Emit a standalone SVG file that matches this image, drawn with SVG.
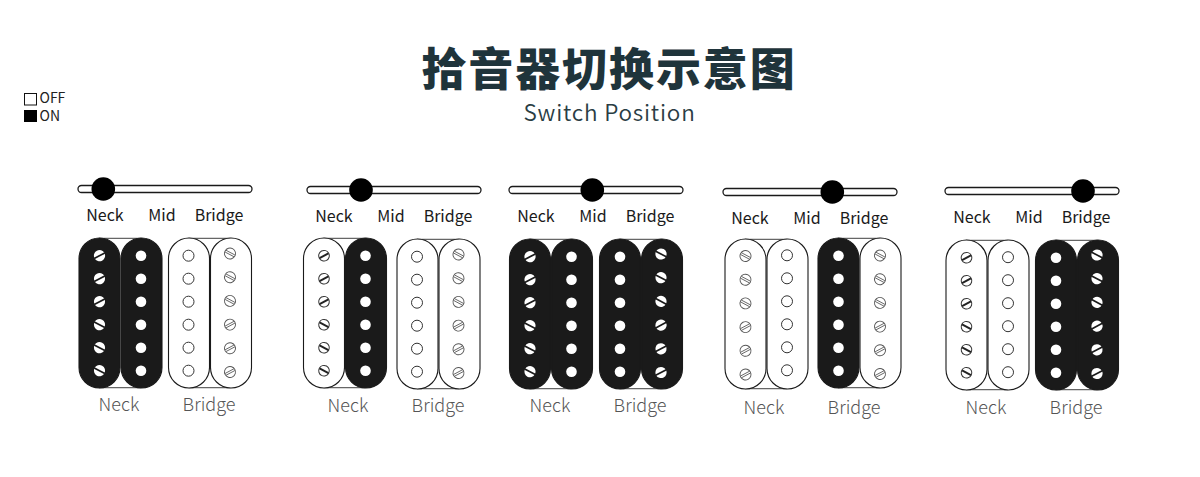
<svg xmlns="http://www.w3.org/2000/svg" width="1200" height="477" viewBox="0 0 1200 477">
<style>
text{font-family:"Noto Sans CJK SC","Noto Sans",sans-serif;text-anchor:middle}
.title{font-weight:900;font-size:45px;fill:#1f343b;letter-spacing:1.9px}
.sub{font-size:22.5px;fill:#2a3d44;letter-spacing:.8px;font-weight:350}
.lab{font-size:16px;fill:#1a1a1a}
.cap{font-size:18px;fill:#555;font-weight:300}
.leg{font-size:14px;fill:#222;text-anchor:start}
.track{fill:#fff;stroke:#1a1a1a;stroke-width:1.3}
.body{stroke:#1a1a1a;stroke-width:1.1}
.k{fill:#1a1a1a}.w{fill:#fff}
.link{stroke:#666;stroke-width:1.2;fill:none}
.hole{fill:#fff;stroke:#333;stroke-width:1}
.holel{fill:#fff;stroke:#555;stroke-width:.9}
</style>
<defs>
<rect id="coilK" width="41" height="150" rx="20.5" class="body k"/>
<rect id="coilW" width="41" height="150" rx="20.5" class="body w"/>
<g id="sk"><circle r="5.6" fill="#fff"/><path d="M-6 0H6" stroke="#1a1a1a" stroke-width="1.7"/></g>
<g id="sw"><circle r="5.3" class="hole"/><path d="M-5 0H5" stroke="#222" stroke-width="1.9"/></g>
<g id="sl"><circle r="5.5" class="holel"/><path d="M-5 -1H5M-5 1H5" stroke="#555" stroke-width=".8"/></g>
<g id="kA"><use href="#sk" transform="translate(0,0) rotate(-28)"/><use href="#sk" transform="translate(0,23) rotate(-28)"/><use href="#sk" transform="translate(0,46) rotate(-28)"/><use href="#sk" transform="translate(0,69) rotate(28)"/><use href="#sk" transform="translate(0,92) rotate(28)"/><use href="#sk" transform="translate(0,115) rotate(28)"/></g>
<g id="wA"><use href="#sw" transform="translate(0,0) rotate(-28)"/><use href="#sw" transform="translate(0,23) rotate(-28)"/><use href="#sw" transform="translate(0,46) rotate(-28)"/><use href="#sw" transform="translate(0,69) rotate(28)"/><use href="#sw" transform="translate(0,92) rotate(28)"/><use href="#sw" transform="translate(0,115) rotate(28)"/></g>
<g id="kB"><use href="#sk" transform="translate(0,0) rotate(28)"/><use href="#sk" transform="translate(0,23.700) rotate(28)"/><use href="#sk" transform="translate(0,47.400) rotate(28)"/><use href="#sk" transform="translate(0,71.100) rotate(-28)"/><use href="#sk" transform="translate(0,94.800) rotate(-28)"/><use href="#sk" transform="translate(0,118.500) rotate(-28)"/></g>
<g id="lB"><use href="#sl" transform="translate(0,0) rotate(28)"/><use href="#sl" transform="translate(0,23.700) rotate(28)"/><use href="#sl" transform="translate(0,47.400) rotate(28)"/><use href="#sl" transform="translate(0,71.100) rotate(-28)"/><use href="#sl" transform="translate(0,94.800) rotate(-28)"/><use href="#sl" transform="translate(0,118.500) rotate(-28)"/></g>
<g id="polesK"><circle cy="0" r="5.3" fill="#fff"/><circle cy="23" r="5.3" fill="#fff"/><circle cy="46" r="5.3" fill="#fff"/><circle cy="69" r="5.3" fill="#fff"/><circle cy="92" r="5.3" fill="#fff"/><circle cy="115" r="5.3" fill="#fff"/></g>
<g id="polesW"><circle cy="0" r="5.5" class="hole"/><circle cy="23" r="5.500" class="hole"/><circle cy="46" r="5.500" class="hole"/><circle cy="69" r="5.500" class="hole"/><circle cy="92" r="5.500" class="hole"/><circle cy="115" r="5.500" class="hole"/></g>
<path id="links" d="M20 .3H62M20 149.700H62" class="link"/>
<g id="labels"><text class="lab" x="27" y="0">Neck</text><text class="lab" x="84" y="0">Mid</text><text class="lab" x="141" y="0">Bridge</text></g>
<rect id="track" y="-3.500" width="174" height="7" rx="3.500" class="track"/>
<g id="neckKK"><use href="#links"/><use href="#coilK"/><use href="#coilK" x="42"/><use href="#kA" transform="translate(20.500,17.700)"/><use href="#polesK" transform="translate(62,17.700)"/></g>
<g id="neckWK"><use href="#links"/><use href="#coilW"/><use href="#coilK" x="42"/><use href="#wA" transform="translate(20.500,17.700)"/><use href="#polesK" transform="translate(62,17.700)"/></g>
<g id="neckWW"><use href="#links"/><use href="#coilW"/><use href="#coilW" x="42"/><use href="#wA" transform="translate(20.500,17.700)"/><use href="#polesW" transform="translate(62,17.200)"/></g>
<g id="neckWWb"><use href="#links"/><use href="#coilW"/><use href="#coilW" x="42"/><use href="#lB" transform="translate(20.500,17)"/><use href="#polesW" transform="translate(62,16.300)"/></g>
<g id="bridgeWW"><use href="#links"/><use href="#coilW"/><use href="#coilW" x="42"/><use href="#polesW" transform="translate(20,17.700)"/><use href="#lB" transform="translate(61.500,15.500)"/></g>
<g id="bridgeKK"><use href="#links"/><use href="#coilK"/><use href="#coilK" x="42"/><use href="#polesK" transform="translate(20.500,17.700)"/><use href="#kB" transform="translate(61.500,15)"/></g>
<g id="bridgeKW"><use href="#links"/><use href="#coilW" x="42"/><use href="#coilK"/><use href="#polesK" transform="translate(20.500,17.700)"/><use href="#lB" transform="translate(62,17.500)"/></g>
</defs>
<rect width="1200" height="477" fill="#fff"/>
<g id="heading">
<text class="title" x="609" y="85.500">拾音器切换示意图</text>
<text class="sub" x="609.500" y="121">Switch Position</text>
</g>
<g id="legend">
<rect x="24.500" y="93.500" width="12" height="11.500" fill="#fff" stroke="#111"/>
<rect x="24" y="110" width="13" height="12" fill="#000"/>
<text class="leg" x="39.500" y="103">OFF</text>
<text class="leg" x="39.500" y="121">ON</text>
</g>
<g id="position-1">
<use href="#track" x="78" y="189"/><circle cx="103.300" cy="189" r="11.800" fill="#000"/>
<use href="#labels" x="78" y="221"/>
<use href="#neckKK" x="79" y="238"/><use href="#bridgeWW" x="168.500" y="238"/>
<text class="cap" x="119" y="411">Neck</text><text class="cap" x="209" y="411">Bridge</text>
</g>
<g id="position-2">
<use href="#track" x="307" y="190"/><circle cx="361" cy="190" r="11.800" fill="#000"/>
<use href="#labels" x="307" y="222"/>
<use href="#neckWK" x="303.500" y="238"/><use href="#bridgeWW" x="397" y="239"/>
<text class="cap" x="348" y="412">Neck</text><text class="cap" x="438" y="412">Bridge</text>
</g>
<g id="position-3">
<use href="#track" x="509" y="190"/><circle cx="592.300" cy="190" r="11.800" fill="#000"/>
<use href="#labels" x="509" y="222"/>
<use href="#neckKK" x="509.500" y="239"/><use href="#bridgeKK" x="599.500" y="239"/>
<text class="cap" x="550" y="412">Neck</text><text class="cap" x="640" y="412">Bridge</text>
</g>
<g id="position-4">
<use href="#track" x="723" y="192"/><circle cx="832.300" cy="192" r="11.800" fill="#000"/>
<use href="#labels" x="723" y="224"/>
<use href="#neckWWb" x="725" y="239"/><use href="#bridgeKW" x="818" y="238"/>
<text class="cap" x="764" y="414">Neck</text><text class="cap" x="854" y="414">Bridge</text>
</g>
<g id="position-5">
<use href="#track" x="945" y="191"/><circle cx="1083" cy="191" r="11.800" fill="#000"/>
<use href="#labels" x="945" y="223"/>
<use href="#neckWW" x="946" y="240"/><use href="#bridgeKK" x="1035.500" y="240"/>
<text class="cap" x="986" y="414">Neck</text><text class="cap" x="1076" y="414">Bridge</text>
</g>
</svg>
